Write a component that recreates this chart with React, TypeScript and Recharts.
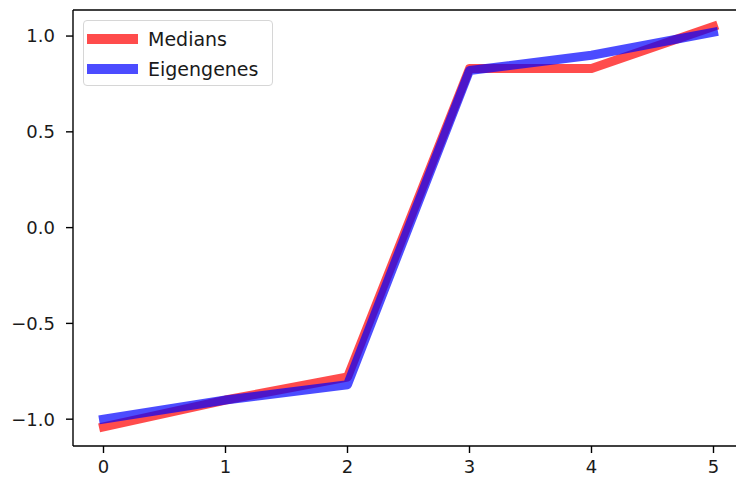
import React from "react";
import { LineChart, Line, XAxis, YAxis, ReferenceLine } from "recharts";

const xValues = [0, 1, 2, 3, 4, 5];
const medians = [-1.04, -0.9, -0.78, 0.83, 0.83, 1.05];
const eigengenes = [-1.0, -0.9, -0.82, 0.82, 0.9, 1.02];
const xTicks = [0, 1, 2, 3, 4, 5];
const yTicks = [-1.0, -0.5, 0.0, 0.5, 1.0];
const seriesNames = ["Medians", "Eigengenes"];
const seriesColors = ["#ff0000", "#0000ff"];
const xDomain = [-0.25, 5.25];
const yDomain = [-1.14, 1.136];

const data = xValues.map((x, i) => ({ x, median: medians[i], eigen: eigengenes[i] }));

const FONT = "'DejaVu Sans', sans-serif";

const fmtY = (v: number) => {
  const s = v.toFixed(1);
  return v < 0 ? "\u2212" + s.slice(1) : s;
};

export default function App() {
  return (
    <div style={{ position: "absolute", left: 0, top: 0, width: 736, height: 478, overflow: "hidden", background: "#fff" }}>
      <LineChart
        width={746}
        height={478}
        data={data}
        margin={{ top: 10, right: 2, left: 0, bottom: 0 }}
      >
        <XAxis
          dataKey="x"
          type="number"
          domain={xDomain}
          ticks={xTicks}
          height={32}
          tickSize={7}
          tickMargin={7}
          axisLine={{ stroke: "#000", strokeWidth: 1.4 }}
          tickLine={{ stroke: "#000", strokeWidth: 1.4 }}
          tick={{ fill: "#1a1a1a", fontSize: 18, fontFamily: FONT }}
          allowDataOverflow
        />
        <YAxis
          type="number"
          domain={yDomain}
          ticks={yTicks}
          width={73}
          tickSize={7}
          tickMargin={11}
          tickFormatter={fmtY}
          axisLine={{ stroke: "#000", strokeWidth: 1.4 }}
          tickLine={{ stroke: "#000", strokeWidth: 1.4 }}
          tick={{ fill: "#1a1a1a", fontSize: 18, fontFamily: FONT }}
          allowDataOverflow
        />
        <ReferenceLine y={yDomain[1]} stroke="#000" strokeWidth={1.4} ifOverflow="visible" />
        <Line
          dataKey="median"
          name={seriesNames[0]}
          stroke={seriesColors[0]}
          strokeOpacity={0.7}
          strokeWidth={9}
          strokeLinecap="square"
          strokeLinejoin="round"
          dot={false}
          activeDot={false}
          isAnimationActive={false}
        />
        <Line
          dataKey="eigen"
          name={seriesNames[1]}
          stroke={seriesColors[1]}
          strokeOpacity={0.7}
          strokeWidth={9}
          strokeLinecap="square"
          strokeLinejoin="round"
          dot={false}
          activeDot={false}
          isAnimationActive={false}
        />
      </LineChart>
      <div
        style={{
          position: "absolute",
          left: 83,
          top: 20,
          width: 190,
          height: 66,
          boxSizing: "border-box",
          border: "1.4px solid #d6d6d6",
          borderRadius: 4,
          background: "rgba(255,255,255,0.8)",
          fontFamily: FONT,
          fontSize: 19,
          color: "#1a1a1a",
        }}
      >
        {seriesNames.map((name, i) => (
          <div
            key={name}
            style={{ position: "absolute", left: 3, top: 7 + i * 30, height: 22, display: "flex", alignItems: "center" }}
          >
            <div style={{ width: 51, height: 10, background: seriesColors[i], opacity: 0.7 }} />
            <span style={{ marginLeft: 10, lineHeight: "22px" }}>{name}</span>
          </div>
        ))}
      </div>
    </div>
  );
}
